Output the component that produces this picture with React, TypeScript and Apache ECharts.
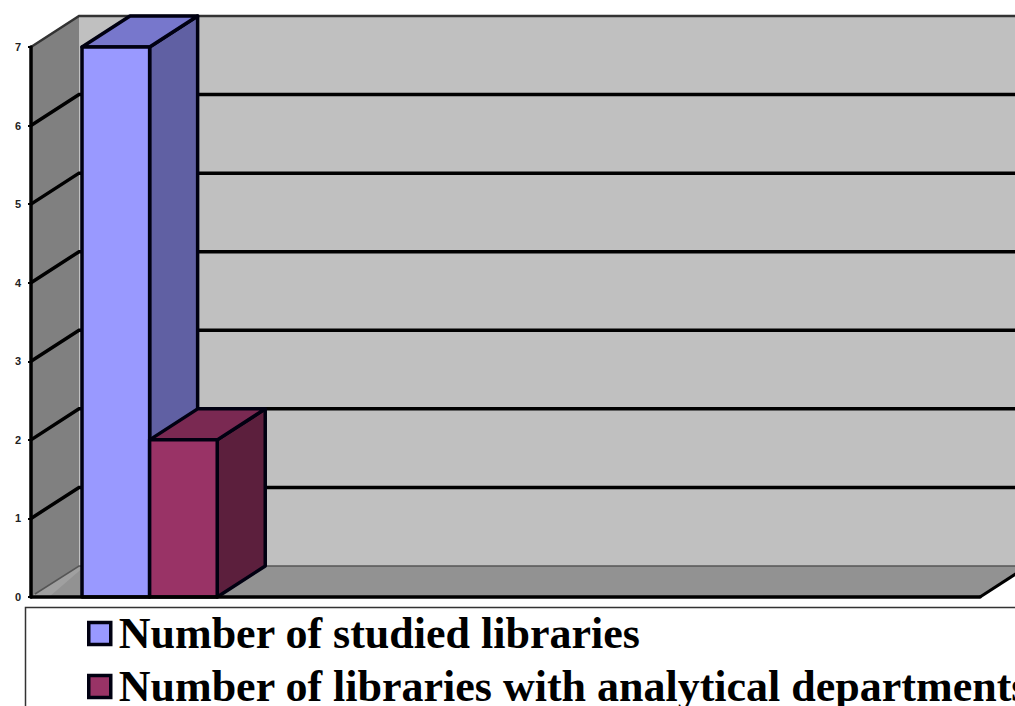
import React, { useEffect, useRef } from "react";
import * as echarts from "echarts";

const categories = ["A", "B", "C", "D"];
const studied = [7, null, null, null];
const analytical = [2, null, null, null];
const yTicks = [0, 1, 2, 3, 4, 5, 6, 7];
const seriesNames = ["Number of studied libraries", "Number of libraries with analytical departments"];

const DX = 48;
const DY = -31;

function poly(points: number[][], fill: string, stroke?: string, lineWidth = 0) {
  return { type: "polygon", shape: { points }, style: { fill, stroke: stroke || "none", lineWidth, lineJoin: "round" } };
}
function pline(points: number[][], stroke: string, lineWidth: number) {
  return { type: "polyline", shape: { points }, style: { fill: "none", stroke, lineWidth } };
}

function renderRoom(params: any, api: any) {
  const cs = params.coordSys;
  const l = cs.x;
  const r = cs.x + cs.width;
  const tick = api.value(0);
  const y = api.coord([0, tick])[1];
  const children: any[] = [];
  if (tick === 0) {
    const top = api.coord([0, 7])[1];
    children.push(poly([[l + DX, top + DY], [r + DX, top + DY], [r + DX, y + DY], [l + DX, y + DY]], "#c0c0c0"));
    children.push(poly([[l, y], [l + DX, y + DY], [r + DX, y + DY], [r, y]], "#929292"));
    children.push(poly([[l, y], [l, top], [l + DX, top + DY], [l + DX, y + DY]], "#808080"));
    children.push(poly([[l, y], [l + DX, y + DY], [l + DX + 6, y + DY], [l + 18, y]], "#a0a0a0"));
    children.push(pline([[l + 4, y - 3], [l + DX, y + DY], [r + DX, y + DY]], "#555555", 1.5));
    children.push(pline([[r, y], [r + DX, y + DY]], "#000000", 3));
  } else if (tick === 7) {
    children.push(pline([[l, y], [l + DX, y + DY], [r + DX, y + DY]], "#333333", 2.5));
  } else {
    children.push(pline([[l, y], [l + DX, y + DY], [r + DX, y + DY]], "#000000", 3.5));
  }
  return { type: "group", children };
}

function makeBar(side: number, front: string, topFace: string, sideFace: string) {
  return (params: any, api: any) => {
    const v = api.value(1);
    if (v == null || isNaN(v)) return null;
    const c = api.coord([api.value(0), 0]);
    const t = api.coord([api.value(0), v]);
    const w = api.size([1, 0])[0] * 0.285;
    const x0 = side === 0 ? c[0] - w : c[0];
    const x1 = x0 + w;
    const yB = c[1];
    const yT = t[1];
    const s = "#000011";
    return {
      type: "group",
      children: [
        poly([[x1, yB], [x1, yT], [x1 + DX, yT + DY], [x1 + DX, yB + DY]], sideFace, s, 3.5),
        poly([[x0, yT], [x0 + DX, yT + DY], [x1 + DX, yT + DY], [x1, yT]], topFace, s, 3.5),
        poly([[x0, yB], [x0, yT], [x1, yT], [x1, yB]], front, s, 3.5),
      ],
    };
  };
}

export default function App() {
  const ref = useRef<HTMLDivElement>(null);
  useEffect(() => {
    document.body.style.margin = "0";
    document.body.style.overflow = "hidden";
    const chart = echarts.init(ref.current!, undefined, { renderer: "svg" });
    chart.setOption({
      animation: false,
      backgroundColor: "#ffffff",
      grid: { left: 31, top: 47, width: 949, height: 550, containLabel: false },
      xAxis: {
        type: "category",
        data: categories,
        axisLine: { show: true, lineStyle: { color: "#000000", width: 3.5 } },
        axisTick: { show: false },
        axisLabel: { show: false },
        splitLine: { show: false },
        z: 5,
      },
      yAxis: {
        type: "value",
        min: 0,
        max: 7,
        interval: 1,
        axisLine: { show: true, lineStyle: { color: "#000000", width: 3.5 } },
        axisTick: { show: true, length: 3, lineStyle: { color: "#000000", width: 2 } },
        axisLabel: { color: "#222222", fontFamily: "Liberation Sans", fontWeight: "bold", fontSize: 11, margin: 10 },
        splitLine: { show: false },
        z: 5,
      },
      legend: {
        orient: "vertical",
        left: 87,
        top: 611,
        height: 200,
        itemWidth: 22,
        itemHeight: 22,
        itemGap: 8,
        data: seriesNames,
        icon: "rect",
        selectedMode: false,
        padding: 0,
        itemStyle: { borderColor: "#000011", borderWidth: 3.5 },
        textStyle: {
          fontFamily: "Liberation Serif",
          fontWeight: "bold",
          fontSize: 44,
          color: "#000000",
          padding: [0, 0, 0, 3],
          lineHeight: 45,
        },
      },
      graphic: [
        {
          type: "rect",
          z: -1,
          shape: { x: 25.5, y: 607.5, width: 1100, height: 200 },
          style: { fill: "#ffffff", stroke: "#333333", lineWidth: 1.5 },
        },
      ],
      series: [
        {
          type: "custom",
          name: "room",
          z: 1,
          data: yTicks.map((t) => [t]),
          encode: { y: 0 },
          renderItem: renderRoom,
          silent: true,
        },
        {
          type: "custom",
          name: seriesNames[0],
          z: 2,
          data: studied.map((v, i) => [i, v]),
          encode: { x: 0, y: 1 },
          itemStyle: { color: "#9999ff" },
          renderItem: makeBar(0, "#9999ff", "#7777cc", "#6060a3"),
        },
        {
          type: "custom",
          name: seriesNames[1],
          z: 3,
          data: analytical.map((v, i) => [i, v]),
          encode: { x: 0, y: 1 },
          itemStyle: { color: "#993366" },
          renderItem: makeBar(1, "#993366", "#7a2952", "#5c1f3d"),
        },
      ],
    });
    return () => chart.dispose();
  }, []);
  return <div ref={ref} style={{ position: "absolute", left: 0, top: 0, width: 1015, height: 706, overflow: "hidden" }} />;
}
